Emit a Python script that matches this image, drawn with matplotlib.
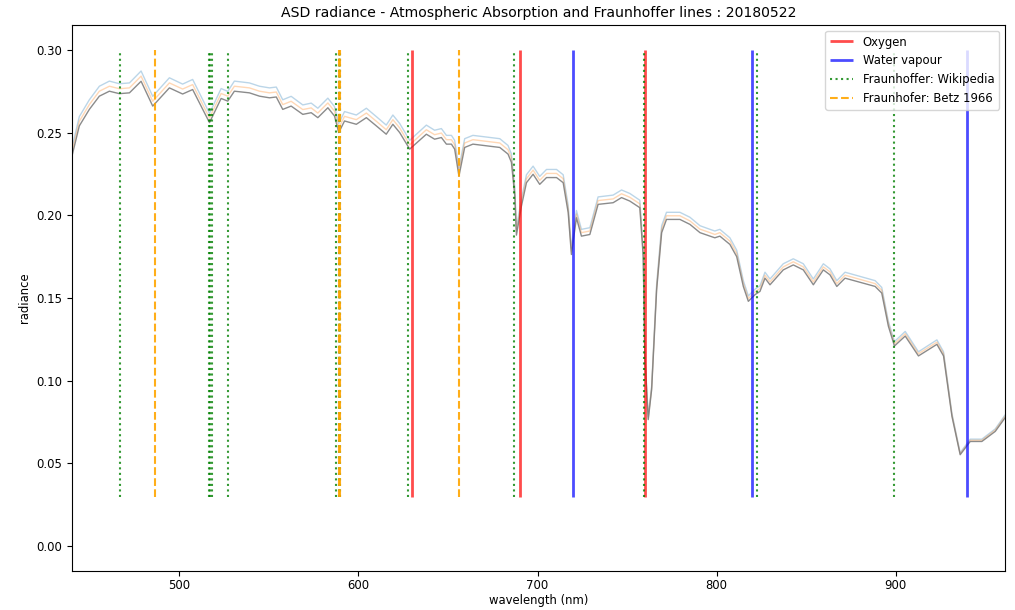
import numpy as np
import matplotlib
matplotlib.use('Agg')
import matplotlib.pyplot as plt

plt.rcParams['font.size'] = 8.4

# spectrum values
wavelength = [439.6, 444.1, 449.7, 455.3, 460.9, 466.5, 472.1, 478.6, 485.1, 494.4,
              501.8, 507.4, 516.8, 523.3, 527.0, 530.7, 539.1, 544.7, 550.3, 554.1,
              557.7, 562.4, 568.9, 573.6, 577.3, 582.9, 586.6, 589.0, 592.2, 598.8,
              604.4, 610.0, 615.5, 619.2, 623.0, 628.6, 637.9, 642.5, 646.3, 649.1,
              651.9, 653.7, 656.1, 659.3, 663.9, 671.4, 678.9, 683.5, 685.4, 687.3,
              688.2, 691.0, 693.8, 697.5, 701.2, 705.0, 710.6, 714.3, 717.1, 718.9,
              721.7, 724.5, 729.2, 733.8, 742.2, 746.9, 751.5, 757.1, 759.0, 759.9,
              761.8, 763.7, 766.5, 769.3, 772.0, 779.5, 785.1, 790.7, 796.3, 799.0,
              801.8, 807.4, 811.2, 814.9, 817.7, 821.4, 824.2, 827.0, 829.8, 837.2,
              842.8, 848.4, 854.0, 859.6, 863.3, 867.1, 871.7, 888.5, 892.2, 895.9,
              899.3, 905.3, 912.7, 923.0, 926.7, 931.4, 936.0, 941.6, 948.1, 955.6,
              961.0]

rad_blue = [0.2391, 0.2596, 0.2698, 0.2780, 0.2811, 0.2795, 0.2800, 0.2872, 0.2719, 0.2831,
            0.2793, 0.2821, 0.2616, 0.2766, 0.2749, 0.2811, 0.2800, 0.2780, 0.2770, 0.2775,
            0.2698, 0.2719, 0.2667, 0.2678, 0.2647, 0.2708, 0.2657, 0.2555, 0.2627, 0.2606,
            0.2647, 0.2596, 0.2545, 0.2606, 0.2555, 0.2453, 0.2545, 0.2514, 0.2524, 0.2483,
            0.2483, 0.2453, 0.2286, 0.2463, 0.2483, 0.2473, 0.2463, 0.2422, 0.2371, 0.2163,
            0.1921, 0.2101, 0.2245, 0.2297, 0.2235, 0.2277, 0.2277, 0.2245, 0.2060, 0.1802,
            0.2029, 0.1915, 0.1925, 0.2111, 0.2122, 0.2153, 0.2132, 0.2091, 0.1789, 0.1173,
            0.0782, 0.0967, 0.1584, 0.1937, 0.2018, 0.2018, 0.1988, 0.1937, 0.1915, 0.1905,
            0.1915, 0.1864, 0.1789, 0.1605, 0.1513, 0.1553, 0.1574, 0.1656, 0.1615, 0.1707,
            0.1737, 0.1707, 0.1615, 0.1707, 0.1676, 0.1605, 0.1656, 0.1605, 0.1564, 0.1359,
            0.1237, 0.1298, 0.1175, 0.1247, 0.1175, 0.0802, 0.0565, 0.0647, 0.0647, 0.0709,
            0.0792]

rad_orange = [0.2366, 0.2568, 0.2669, 0.2750, 0.2780, 0.2765, 0.2770, 0.2841, 0.2689, 0.2800,
              0.2763, 0.2790, 0.2588, 0.2736, 0.2720, 0.2780, 0.2770, 0.2750, 0.2740, 0.2745,
              0.2669, 0.2689, 0.2639, 0.2649, 0.2618, 0.2679, 0.2629, 0.2528, 0.2598, 0.2578,
              0.2618, 0.2568, 0.2517, 0.2578, 0.2528, 0.2426, 0.2517, 0.2487, 0.2497, 0.2457,
              0.2457, 0.2426, 0.2262, 0.2437, 0.2457, 0.2447, 0.2437, 0.2396, 0.2346, 0.2139,
              0.1901, 0.2079, 0.2221, 0.2273, 0.2211, 0.2253, 0.2253, 0.2221, 0.2038, 0.1782,
              0.2007, 0.1895, 0.1905, 0.2089, 0.2099, 0.2130, 0.2109, 0.2069, 0.1769, 0.1161,
              0.0773, 0.0956, 0.1567, 0.1916, 0.1997, 0.1997, 0.1966, 0.1916, 0.1895, 0.1884,
              0.1895, 0.1844, 0.1769, 0.1587, 0.1496, 0.1537, 0.1557, 0.1638, 0.1597, 0.1688,
              0.1719, 0.1688, 0.1597, 0.1688, 0.1658, 0.1587, 0.1638, 0.1587, 0.1547, 0.1345,
              0.1223, 0.1284, 0.1163, 0.1233, 0.1163, 0.0794, 0.0559, 0.0640, 0.0640, 0.0702,
              0.0784]

rad_gray = [0.234, 0.254, 0.264, 0.272, 0.275, 0.2735, 0.274, 0.281, 0.266, 0.277,
            0.2733, 0.276, 0.256, 0.2706, 0.269, 0.275, 0.274, 0.272, 0.271, 0.2715,
            0.264, 0.266, 0.261, 0.262, 0.259, 0.265, 0.260, 0.250, 0.257, 0.255,
            0.259, 0.254, 0.249, 0.255, 0.250, 0.240, 0.249, 0.246, 0.247, 0.243,
            0.243, 0.240, 0.2237, 0.241, 0.243, 0.242, 0.241, 0.237, 0.232, 0.2116,
            0.188, 0.2056, 0.2197, 0.2248, 0.2187, 0.2228, 0.2228, 0.2197, 0.2016, 0.1763,
            0.1985, 0.1874, 0.1884, 0.2066, 0.2076, 0.2107, 0.2086, 0.2046, 0.175, 0.1148,
            0.0765, 0.0946, 0.155, 0.1895, 0.1975, 0.1975, 0.1945, 0.1895, 0.1874, 0.1864,
            0.1874, 0.1824, 0.175, 0.157, 0.148, 0.152, 0.154, 0.162, 0.158, 0.167,
            0.170, 0.167, 0.158, 0.167, 0.164, 0.157, 0.162, 0.157, 0.153, 0.133,
            0.121, 0.127, 0.115, 0.122, 0.115, 0.0785, 0.0553, 0.0633, 0.0633, 0.0694,
            0.0775]

# absorption / Fraunhofer line positions (nm)
oxygen = [630, 690, 760]
water_vapour = [720, 820, 940]
fraunhofer_wiki = [466.814, 516.733, 517.27, 518.362, 527.039, 587.5618, 588.995,
                   589.592, 627.661, 686.719, 759.37, 822.696, 898.765]
fraunhofer_betz = [486.1, 589.0, 589.6, 656.3]

fig = plt.figure(figsize=(10.15, 6.1), dpi=100)
ax = fig.add_axes([0.0709, 0.0639, 0.9192, 0.8951])

ax.plot(wavelength, rad_blue, color='tab:blue', lw=1, alpha=0.3)
ax.plot(wavelength, rad_orange, color='tab:orange', lw=1, alpha=0.3)
ax.plot(wavelength, rad_gray, color='tab:gray', lw=1, alpha=0.9)

ax.vlines(oxygen, 0.03, 0.30, colors='red', lw=2, alpha=0.7, label='Oxygen')
ax.vlines(water_vapour, 0.03, 0.30, colors='blue', lw=2, alpha=0.7, label='Water vapour')
ax.vlines(fraunhofer_wiki, 0.03, 0.30, colors='green', lw=1.5, linestyles=':', alpha=0.8,
          label='Fraunhoffer: Wikipedia')
ax.vlines(fraunhofer_betz, 0.03, 0.30, colors='orange', lw=1.5, linestyles='--', alpha=0.9,
          label='Fraunhofer: Betz 1966')

ax.set_xlim(440, 961)
ax.set_ylim(-0.015, 0.315)
ax.set_xticks([500, 600, 700, 800, 900])
ax.set_yticks([0.0, 0.05, 0.10, 0.15, 0.20, 0.25, 0.30])
ax.tick_params(axis='x', pad=2.5)
ax.set_xlabel('wavelength (nm)', labelpad=1)
ax.set_ylabel('radiance')
ax.set_title('ASD radiance - Atmospheric Absorption and Fraunhoffer lines : 20180522')
ax.legend(loc='upper right')

fig.savefig('out.png', dpi=100)
